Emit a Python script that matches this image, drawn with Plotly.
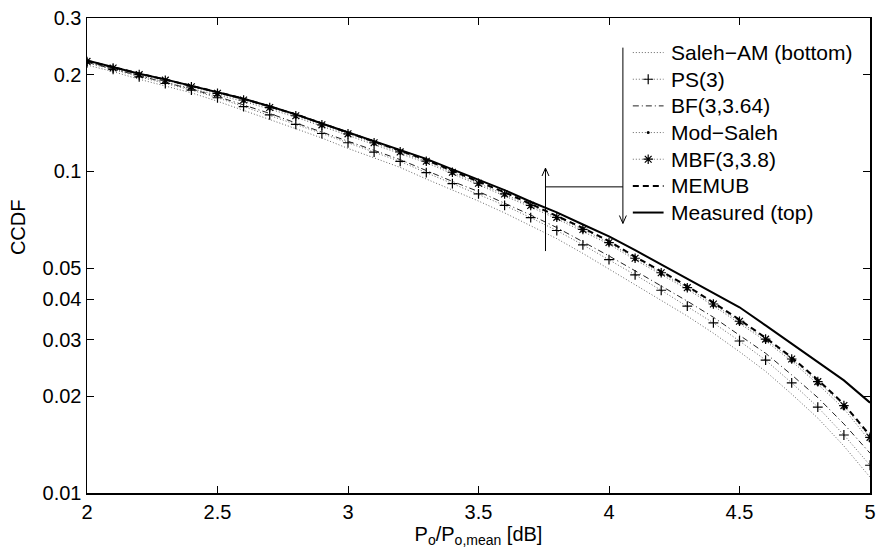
import math
import plotly.graph_objects as go

# ---------------- data ----------------
x = [2.0, 2.1, 2.2, 2.3, 2.4, 2.5, 2.6, 2.7, 2.8, 2.9, 3.0,
     3.1, 3.2, 3.3, 3.4, 3.5, 3.6, 3.7, 3.8, 3.9, 4.0,
     4.1, 4.2, 4.3, 4.4, 4.5, 4.6, 4.7, 4.8, 4.9, 5.0]

saleh_am = [0.2142, 0.2044, 0.1935, 0.1844, 0.1756, 0.1653, 0.1548, 0.1458, 0.1358, 0.1270, 0.1179,
            0.1102, 0.1029, 0.0947, 0.0875, 0.0809, 0.0743, 0.0679, 0.0618, 0.0556, 0.0497,
            0.0446, 0.0399, 0.0355, 0.0314, 0.0275, 0.0239, 0.0203, 0.0171, 0.0140, 0.0112]

ps3 = [0.2175, 0.2077, 0.1967, 0.1877, 0.1790, 0.1695, 0.1591, 0.1500, 0.1400, 0.1312, 0.1228,
       0.1149, 0.1074, 0.0991, 0.0917, 0.0852, 0.0784, 0.0718, 0.0655, 0.0591, 0.0532,
       0.0477, 0.0427, 0.0381, 0.0338, 0.0297, 0.0259, 0.0220, 0.0185, 0.01515, 0.0122]

bf = [0.2185, 0.2085, 0.1980, 0.1890, 0.1803, 0.1710, 0.1607, 0.1515, 0.1415, 0.1327, 0.1243,
      0.1163, 0.1088, 0.1005, 0.0931, 0.0866, 0.0798, 0.0732, 0.0669, 0.0605, 0.0546,
      0.0491, 0.0441, 0.0395, 0.0352, 0.0310, 0.0272, 0.0233, 0.0198, 0.0164, 0.0133]

mod_saleh = [0.2180, 0.2080, 0.1983, 0.1902, 0.1815, 0.1730, 0.1650, 0.1563, 0.1474, 0.1381, 0.1295,
             0.1215, 0.1138, 0.1064, 0.0983, 0.0909, 0.0842, 0.0775, 0.0712, 0.0652, 0.0594,
             0.0531, 0.0478, 0.0430, 0.0382, 0.0337, 0.0297, 0.0257, 0.0218, 0.0183, 0.0145]

mbf = [0.2198, 0.2097, 0.2000, 0.1922, 0.1833, 0.1749, 0.1668, 0.1580, 0.1490, 0.1396, 0.1309,
       0.1228, 0.1150, 0.1076, 0.0994, 0.0919, 0.0851, 0.0784, 0.0720, 0.0660, 0.0601,
       0.0537, 0.0484, 0.0435, 0.0387, 0.0342, 0.0301, 0.0261, 0.0222, 0.0187, 0.0149]

memub = [0.2205, 0.2110, 0.2015, 0.1935, 0.1848, 0.1765, 0.1683, 0.1595, 0.1505, 0.1410, 0.1322,
         0.1240, 0.1162, 0.1087, 0.1004, 0.0929, 0.0861, 0.0792, 0.0728, 0.0667, 0.0607,
         0.0543, 0.0489, 0.0440, 0.0391, 0.0346, 0.0304, 0.0264, 0.0225, 0.0189, 0.0151]

measured = [0.2214, 0.2110, 0.2012, 0.1933, 0.1845, 0.1762, 0.1682, 0.1594, 0.1505, 0.1410, 0.1323,
            0.1243, 0.1167, 0.1094, 0.1015, 0.0942, 0.0875, 0.0805, 0.0746, 0.0684, 0.0628,
            0.0569, 0.0513, 0.0464, 0.0419, 0.0378, 0.0332, 0.0291, 0.0255, 0.0224, 0.0191]

x_ticks = [2, 2.5, 3, 3.5, 4, 4.5, 5]
x_tick_labels = ["2", "2.5", "3", "3.5", "4", "4.5", "5"]
y_ticks = [0.01, 0.02, 0.03, 0.04, 0.05, 0.1, 0.2, 0.3]
y_tick_labels = ["0.01", "0.02", "0.03", "0.04", "0.05", "0.1", "0.2", "0.3"]

names = ["Saleh\u2212AM (bottom)", "PS(3)", "BF(3,3.64)", "Mod\u2212Saleh",
         "MBF(3,3.8)", "MEMUB", "Measured (top)"]

# ---------------- figure ----------------
FONT = "Liberation Sans, Arial, Helvetica, sans-serif"
fig = go.Figure()

DOT = dict(color="#666666", width=1, dash="1px,2px")
styles = [
    dict(series=saleh_am, line=DOT, marker=None),
    dict(series=ps3, line=DOT,
         marker=dict(symbol="cross-thin-open", size=7, color="black", line=dict(color="black", width=1.2))),
    dict(series=bf, line=dict(color="#222222", width=1, dash="6px,3px,1px,3px"), marker=None),
    dict(series=mod_saleh, line=DOT, marker=dict(symbol="circle", size=3, color="black")),
    dict(series=mbf, line=DOT,
         marker=dict(symbol="asterisk-open", size=8, color="black", line=dict(color="black", width=1.2))),
    dict(series=memub, line=dict(color="black", width=2, dash="6px,4px"), marker=None),
    dict(series=measured, line=dict(color="black", width=2), marker=None),
]

for nm, st in zip(names, styles):
    kw = dict(x=x, y=st["series"], name=nm, mode="lines+markers" if st["marker"] else "lines",
              line=st["line"], showlegend=False)
    if st["marker"] is not None:
        kw["marker"] = st["marker"]
    fig.add_trace(go.Scatter(**kw))

# ---------------- hand-drawn legend (overlay axes spanning the plot area 0..1) ----------------
PW, PH = 789.0, 481.0          # plotting-area size in px
leg_x0, leg_x1, leg_text = (637 - 87) / PW, (668 - 87) / PW, (673 - 87) / PW
leg_rows_px = [47, 74, 101, 128, 155, 182, 209]
annotations = []
for nm, st, rpx in zip(names, styles, leg_rows_px):
    yy = (493 - rpx) / PH
    fig.add_trace(go.Scatter(x=[leg_x0, leg_x1], y=[yy, yy], mode="lines", line=st["line"],
                             xaxis="x2", yaxis="y2", showlegend=False, hoverinfo="skip"))
    if st["marker"] is not None:
        fig.add_trace(go.Scatter(x=[(leg_x0 + leg_x1) / 2], y=[yy], mode="markers", marker=st["marker"],
                                 xaxis="x2", yaxis="y2", showlegend=False, hoverinfo="skip"))
    annotations.append(dict(xref="paper", yref="paper", x=leg_text, y=yy, text=nm, showarrow=False,
                            xanchor="left", yanchor="middle",
                            font=dict(family=FONT, size=21, color="black")))

# ---------------- arrows ----------------
up_x, up_tip, up_tail = (549 - 87) / PW, (493 - 164) / PH, (493 - 248) / PH
dn_x, dn_tip, dn_tail = (627 - 87) / PW, (493 - 220) / PH, (493 - 42) / PH
join_y = (493 - 183) / PH
hl, hw = 8 / PH, 3.5 / PW   # arrow head length / half width

def seg(x0, y0, x1, y1):
    return dict(type="line", xref="paper", yref="paper", x0=x0, y0=y0, x1=x1, y1=y1,
                line=dict(color="black", width=1))

shapes = [
    seg(up_x, up_tail, up_x, up_tip),
    seg(dn_x, dn_tail, dn_x, dn_tip),
    seg(up_x, join_y, dn_x, join_y),
    seg(up_x - hw, up_tip - hl, up_x, up_tip),
    seg(up_x + hw, up_tip - hl, up_x, up_tip),
    seg(dn_x - hw, dn_tip + hl, dn_x, dn_tip),
    seg(dn_x + hw, dn_tip + hl, dn_x, dn_tip),
]

annotations.append(dict(xref="paper", yref="paper", x=-0.088, y=0.56, text="CCDF", textangle=-90,
                        showarrow=False, font=dict(family=FONT, size=20, color="black"),
                        xanchor="center", yanchor="middle"))

fig.update_layout(
    width=883, height=558,
    margin=dict(l=87, r=7, t=12, b=65),
    paper_bgcolor="white", plot_bgcolor="white",
    font=dict(family=FONT, size=20, color="black"),
    showlegend=False,
    annotations=annotations,
    shapes=shapes,
    xaxis2=dict(overlaying="x", range=[0, 1], visible=False, fixedrange=True),
    yaxis2=dict(overlaying="y", range=[0, 1], visible=False, fixedrange=True),
)

fig.layout.xaxis.update(range=[2, 5], tickvals=x_ticks, ticktext=x_tick_labels,
                        ticks="inside", ticklen=7, tickcolor="black", tickwidth=1,
                        showline=True, linecolor="black", linewidth=1.5, mirror="ticks",
                        showgrid=False, zeroline=False,
                        tickfont=dict(family=FONT, size=20, color="black"),
                        title=dict(text="P<sub>o</sub>/P<sub>o,mean</sub> [dB]",
                                   font=dict(family=FONT, size=20, color="black"), standoff=3))
fig.layout.yaxis.update(type="log", range=[math.log10(0.01), math.log10(0.3)],
                        tickvals=y_ticks, ticktext=y_tick_labels,
                        ticks="inside", ticklen=7, tickcolor="black", tickwidth=1,
                        showline=True, linecolor="black", linewidth=1.5, mirror="ticks",
                        showgrid=False, zeroline=False,
                        tickfont=dict(family=FONT, size=20, color="black"))

fig.write_html("out.html", config={"displayModeBar": False, "staticPlot": True},
               post_script="document.body.style.margin='0px';document.body.style.overflow='hidden';")
